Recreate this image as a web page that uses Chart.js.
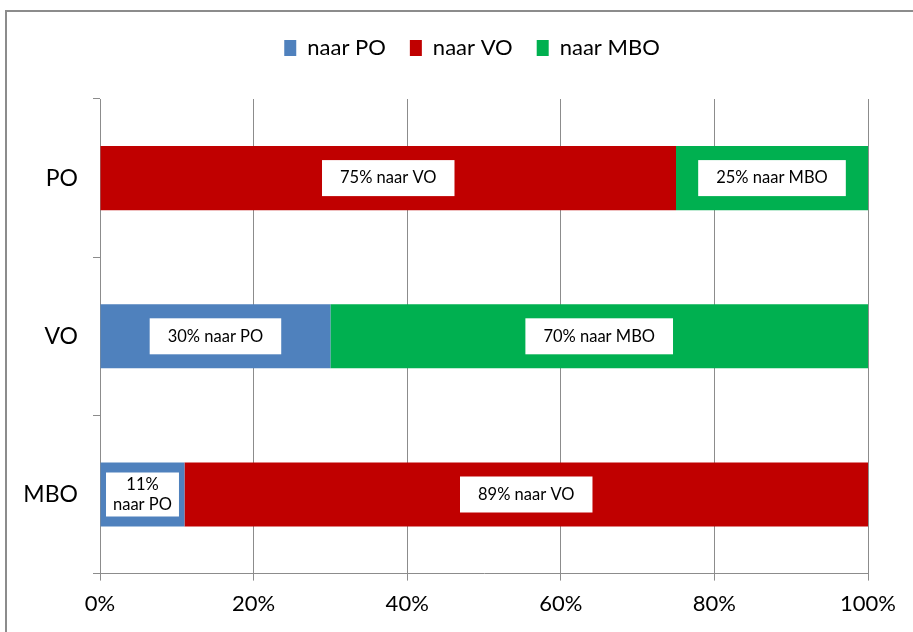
<!DOCTYPE html>
<html>
<head>
<meta charset="utf-8">
<script src="https://cdn.jsdelivr.net/npm/chart.js@4"></script>
<style>
  html, body { margin: 0; padding: 0; background: #fff; overflow: hidden; }
  #wrap { position: relative; width: 913px; height: 632px; }
  #frame { position: absolute; left: 5px; top: 10px; width: 1000px; height: 1000px; border: 2px solid #8c8c8c; box-sizing: border-box; }
  canvas { position: absolute; left: 0; top: 0; }
</style>
</head>
<body>
<div id="wrap">
  <div id="frame"></div>
  <canvas id="chart" width="913" height="632"></canvas>
</div>
<script>
// categories (herkomst) and the share going to each destination
const categories = ['PO', 'VO', 'MBO'];
const seriesNames = ['naar PO', 'naar VO', 'naar MBO'];
const naarPO = [0, 30, 11];
const naarVO = [75, 0, 89];
const naarMBO = [25, 70, 0];
const xTicks = [0, 20, 40, 60, 80, 100];

const colors = ['#4F81BD', '#C00000', '#00B050'];
const fontFamily = 'Lato, "Liberation Sans", sans-serif';

// white label boxes on the bar segments (+ legend spacing tweaks)
const boxLabels = {
  id: 'boxLabels',
  afterInit(chart) {
    // extra room between legend and plot area
    const lg = chart.legend;
    const origFit = lg.fit;
    lg.fit = function () { origFit.call(this); this.height += 30; };
  },
  afterLayout(chart) {
    // legend is centred a bit right of the canvas centre
    chart.legend.left += 76;
  },
  afterDatasetsDraw(chart) {
    const ctx = chart.ctx;
    ctx.save();
    ctx.font = '16.5px ' + fontFamily;
    ctx.textAlign = 'center';
    ctx.textBaseline = 'middle';
    chart.data.datasets.forEach((ds, i) => {
      const meta = chart.getDatasetMeta(i);
      meta.data.forEach((bar, j) => {
        const v = ds.data[j];
        if (!v) return;
        const left = Math.min(bar.x, bar.base);
        const right = Math.max(bar.x, bar.base);
        const cx = (left + right) / 2;
        const cy = bar.y;
        let lines = [v + '% ' + ds.label];
        let padX = 18;
        const w1 = ctx.measureText(lines[0]).width;
        if (w1 + padX * 2 > right - left) {
          lines = [v + '%', ds.label];
          padX = 7;
        }
        const tw = Math.max(...lines.map(l => ctx.measureText(l).width));
        const lh = 20;
        const bw = tw + padX * 2;
        const bh = lines.length === 1 ? 36 : 44;
        ctx.fillStyle = '#fff';
        ctx.fillRect(cx - bw / 2, cy - bh / 2, bw, bh);
        ctx.fillStyle = '#000';
        lines.forEach((l, k) => {
          ctx.fillText(l, cx, cy + (k - (lines.length - 1) / 2) * lh);
        });
      });
    });
    ctx.restore();
  }
};

const ctx = document.getElementById('chart').getContext('2d');
const chart = new Chart(ctx, {
  type: 'bar',
  data: {
    labels: categories,
    datasets: [
      { label: seriesNames[0], data: naarPO, backgroundColor: colors[0] },
      { label: seriesNames[1], data: naarVO, backgroundColor: colors[1] },
      { label: seriesNames[2], data: naarMBO, backgroundColor: colors[2] }
    ]
  },
  options: {
    indexAxis: 'y',
    responsive: false,
    animation: false,
    devicePixelRatio: 1,
    categoryPercentage: 1,
    barPercentage: 0.405,
    layout: { padding: { left: 0, right: 45, top: 13, bottom: 5 } },
    plugins: {
      legend: {
        position: 'top',
        labels: {
          color: '#000',
          font: { family: fontFamily, size: 22 },
          boxWidth: 12,
          boxHeight: 16,
          padding: 24
        }
      },
      tooltip: { enabled: false }
    },
    scales: {
      x: {
        stacked: true,
        min: 0,
        max: 100,
        afterBuildTicks(scale) { scale.ticks = xTicks.map(v => ({ value: v })); },
        ticks: {
          color: '#000',
          font: { family: fontFamily, size: 22 },
          padding: 10,
          callback: v => v + '%'
        },
        grid: { color: '#8c8c8c', tickLength: 7 },
        border: { color: '#8c8c8c' }
      },
      y: {
        stacked: true,
        afterFit(scale) { scale.width = 100; },
        ticks: {
          color: '#000',
          font: { family: fontFamily, size: 23 },
          padding: 15
        },
        grid: { offset: true, drawOnChartArea: false, tickLength: 7, color: '#8c8c8c' },
        border: { color: '#8c8c8c' }
      }
    }
  },
  plugins: [boxLabels]
});
</script>
</body>
</html>
